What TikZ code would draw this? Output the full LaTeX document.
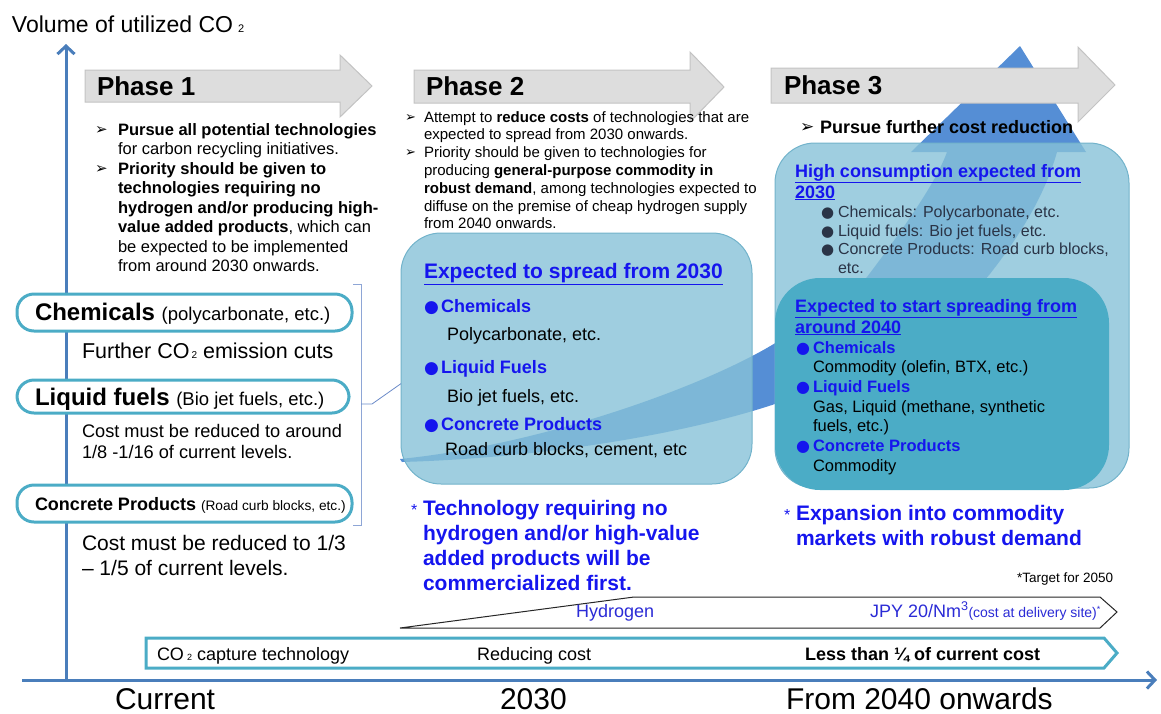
\documentclass[tikz,border=0pt]{standalone}
\usepackage{fontspec}
\setmainfont{Liberation Sans}
\newfontfamily\dejavu{DejaVu Sans}
\usetikzlibrary{arrows.meta,calc}
\definecolor{axisblue}{HTML}{4A7EBB}
\definecolor{phasegray}{HTML}{DDDDDD}
\definecolor{phaseedge}{HTML}{C3C3C3}
\definecolor{boxlight}{HTML}{87C2D8}
\definecolor{boxedge}{HTML}{72B3CB}
\definecolor{boxdark}{HTML}{4BACC6}
\definecolor{swoosh}{HTML}{558ED5}
\definecolor{pillteal}{HTML}{4BACC6}
\definecolor{txtblue}{HTML}{1515EE}
\definecolor{hblue}{HTML}{2B2BD6}
\definecolor{brkt}{HTML}{8EA6D6}
\definecolor{linkblue}{HTML}{6A8AC8}
\definecolor{navytxt}{HTML}{2A3447}
\newcommand\fz[1]{\fontsize{#1}{#1}\selectfont}
\newcommand\cosub[2]{CO\kern#2{\fz{#1}2}}
\newcommand\tri[1]{{\dejavu\fz{#1}➢}}
\newcommand\blt[1]{{\dejavu\fz{#1}●}}
\begin{document}
\begin{tikzpicture}[x=1pt,y=-1pt,
  txt/.style={anchor=base west,inner sep=0pt,outer sep=0pt},
  phasearrow/.style={fill=phasegray,draw=phaseedge,line width=1pt},
  lightbox/.style={draw=boxedge,line width=1pt,fill=boxlight,fill opacity=0.8,rounded corners=40pt,inner sep=0pt,outer sep=0pt,anchor=north west},
  darkbox/.style={fill=boxdark,rounded corners=45pt,inner sep=0pt,outer sep=0pt,anchor=north west},
  pill/.style={draw=pillteal,line width=3pt,fill=white,rounded corners=17pt,inner sep=0pt,outer sep=0pt,anchor=north west},
  axisline/.style={draw=axisblue,line width=3pt,-{Straight Barb[length=8pt,width=17pt]}},
  brktline/.style={draw=brkt,line width=1pt},
  linkline/.style={draw=linkblue,line width=0.8pt},
  strip/.style={draw=pillteal,line width=3pt,fill=white},
  h2line/.style={draw=black!85,line width=1pt,fill=white},
  bluetxt/.style={txt,text=txtblue},
]
\useasboundingbox (0,0) rectangle (1161,713);

% axes
\coordinate (origin) at (66,680);
\coordinate (ytop) at (66,44);
\coordinate (xleft) at (22,680);
\coordinate (xright) at (1157,680);
\draw[axisline] (origin) -- (ytop);
\draw[axisline] (xleft) -- (xright);

% big swoosh arrow
\fill[swoosh] (400,459) .. controls (540,445) and (700,388) .. (772,345)
  .. controls (812,321) and (840,313) .. (870,273)
  .. controls (900,233) and (935,185) .. (947,152)
  -- (911,152) -- (1020,46) -- (1086,152) -- (1057,152)
  .. controls (1045,195) and (1020,235) .. (993,270)
  .. controls (960,315) and (860,375) .. (772,405)
  .. controls (680,435) and (540,458) .. (402,462) -- cycle;

% phase arrows
\draw[phasearrow] (85,70) -- (340,70) -- (340,55) -- (372,86) -- (340,117) -- (340,102) -- (85,102) -- cycle;
\draw[phasearrow] (414,70) -- (690,70) -- (690,52) -- (724,87) -- (690,122) -- (690,103) -- (414,103) -- cycle;
\draw[phasearrow] (771,68) -- (1078,68) -- (1078,47) -- (1115,85) -- (1078,122) -- (1078,103) -- (771,103) -- cycle;

% boxes
\node[lightbox,minimum width=351pt,minimum height=251pt] (p2box) at (401,233) {};
\node[lightbox,minimum width=354pt,minimum height=345pt] (p3box) at (775,143) {};
\node[darkbox,minimum width=334pt,minimum height=212pt] (p3inner) at (775,278) {};

% pills
\node[pill,minimum width=335pt,minimum height=37pt] (pchem) at (17,294) {};
\node[pill,minimum width=332pt,minimum height=33pt] (pliq) at (17,380) {};
\node[pill,minimum width=335pt,minimum height=37pt] (pconc) at (17,485) {};

% bracket and link
\coordinate (bt) at (353,284);
\coordinate (bb) at (353,525);
\coordinate (bm) at (361,404);
\draw[brktline] (bt) -- (361,284) -- (361,525) -- (bb);
\draw[linkline] (bm) -- ++(11,0) -- ($(p2box.north west)!0.6!(p2box.south west)$);

% bottom strips
\draw[h2line] (400,628) -- (634,597) -- (1100,597) -- (1117,612) -- (1100,628) -- cycle;
\draw[strip] (146,638) -- (1104,638) -- (1117,653) -- (1104,668) -- (146,668) -- cycle;

% ---- texts ----
\node[txt] (ylabel) at (12,32) {\fz{23}Volume of utilized \cosub{11}{5pt}};

\node[txt] (ph1) at (97,95) {\fz{26}\bfseries Phase 1};
\node[txt] (ph2) at (426,95) {\fz{26}\bfseries Phase 2};
\node[txt] (ph3) at (784,94) {\fz{26}\bfseries Phase 3};

% phase 1 bullets
\node[txt] (p1ta) at (95,134) {\tri{15}};
\node[txt] (p1a) at (118,135) {\fz{16.5}\bfseries Pursue all potential technologies};
\node[txt] (p1b) at (118,154.5) {\fz{16.5}for carbon recycling initiatives.};
\node[txt] (p1tb) at (95,173.5) {\tri{15}};
\node[txt] (p1c) at (118,174) {\fz{16.5}\bfseries Priority should be given to};
\node[txt] (p1d) at (118,193.5) {\fz{16.5}\bfseries technologies requiring no};
\node[txt] (p1e) at (118,213) {\fz{16.5}\bfseries hydrogen and/or producing high-};
\node[txt] (p1f) at (118,232.5) {\fz{16.5}\textbf{value added products}, which can};
\node[txt] (p1g) at (118,252) {\fz{16.5}be expected to be implemented};
\node[txt] (p1h) at (118,271.5) {\fz{16.5}from around 2030 onwards.};

% phase 2 bullets
\node[txt] (p2ta) at (405,121) {\tri{13}};
\node[txt] (p2a) at (424,122) {\fz{15}Attempt to \textbf{reduce costs} of technologies that are};
\node[txt] (p2b) at (424,139.8) {\fz{15}expected to spread from 2030 onwards.};
\node[txt] (p2tb) at (405,156.6) {\tri{13}};
\node[txt] (p2c) at (424,157.6) {\fz{15}Priority should be given to technologies for};
\node[txt] (p2d) at (424,175.4) {\fz{15}producing \textbf{general-purpose commodity in}};
\node[txt] (p2e) at (424,193.2) {\fz{15}\textbf{robust demand}, among technologies expected to};
\node[txt] (p2f) at (424,211) {\fz{15}diffuse on the premise of cheap hydrogen supply};
\node[txt] (p2g) at (424,228.8) {\fz{15}from 2040 onwards.};

% phase 3 bullet
\node[txt] (p3ta) at (800,132) {\tri{17}};
\node[txt] (p3a) at (820,133) {\fz{18}\bfseries Pursue further cost reduction};

% phase 2 box content
\node[bluetxt] (b2h) at (424,278) {\fz{21}\bfseries\underline{Expected to spread from 2030}};
\node[bluetxt] (b2d1) at (424,312) {\blt{17}};
\node[bluetxt] (b2c1) at (441,312) {\fz{18}\bfseries Chemicals};
\node[txt] (b2t1) at (447,340) {\fz{18}Polycarbonate, etc.};
\node[bluetxt] (b2d2) at (424,373) {\blt{17}};
\node[bluetxt] (b2c2) at (441,373) {\fz{18}\bfseries Liquid Fuels};
\node[txt] (b2t2) at (447,402) {\fz{18}Bio jet fuels, etc.};
\node[bluetxt] (b2d3) at (424,430) {\blt{17}};
\node[bluetxt] (b2c3) at (441,430) {\fz{18}\bfseries Concrete Products};
\node[txt] (b2t3) at (445,455) {\fz{18}Road curb blocks, cement, etc};

% phase 3 outer box content
\node[bluetxt] (b3h1) at (795,177) {\fz{18}\bfseries\underline{High consumption expected from}};
\node[bluetxt] (b3h2) at (795,198) {\fz{18}\bfseries\underline{2030}};
\node[txt,text=navytxt] (b3d1) at (821,217) {\blt{15}};
\node[txt,text=navytxt] (b3t1) at (838,217) {\fz{16}Chemicals: Polycarbonate, etc.};
\node[txt,text=navytxt] (b3d2) at (821,236) {\blt{15}};
\node[txt,text=navytxt] (b3t2) at (838,236) {\fz{16}Liquid fuels: Bio jet fuels, etc.};
\node[txt,text=navytxt] (b3d3) at (821,254) {\blt{15}};
\node[txt,text=navytxt] (b3t3) at (838,254) {\fz{16}Concrete Products: Road curb blocks,};
\node[txt,text=navytxt] (b3t4) at (838,273) {\fz{16}etc.};

% inner box content
\node[bluetxt] (b4h1) at (795,312) {\fz{18}\bfseries\underline{Expected to start spreading from}};
\node[bluetxt] (b4h2) at (795,333) {\fz{18}\bfseries\underline{around 2040}};
\node[bluetxt] (b4d1) at (796,353) {\blt{16}};
\node[bluetxt] (b4c1) at (813,353) {\fz{16.5}\bfseries Chemicals};
\node[txt] (b4t1) at (813,372) {\fz{16.5}Commodity (olefin, BTX, etc.)};
\node[bluetxt] (b4d2) at (796,392) {\blt{16}};
\node[bluetxt] (b4c2) at (813,392) {\fz{16.5}\bfseries Liquid Fuels};
\node[txt] (b4t2) at (813,412) {\fz{16.5}Gas, Liquid (methane, synthetic};
\node[txt] (b4t3) at (813,431) {\fz{16.5}fuels, etc.)};
\node[bluetxt] (b4d3) at (796,451) {\blt{16}};
\node[bluetxt] (b4c3) at (813,451) {\fz{16.5}\bfseries Concrete Products};
\node[txt] (b4t4) at (813,471) {\fz{16.5}Commodity};

% notes
\node[bluetxt] (n1s) at (411,515) {\fz{16}*};
\node[bluetxt] (n1a) at (423,515) {\fz{21}\bfseries Technology requiring no};
\node[bluetxt] (n1b) at (423,540) {\fz{21}\bfseries hydrogen and/or high-value};
\node[bluetxt] (n1c) at (423,565) {\fz{21}\bfseries added products will be};
\node[bluetxt] (n1d) at (423,590) {\fz{21}\bfseries commercialized first.};
\node[bluetxt] (n2s) at (784,520) {\fz{16}*};
\node[bluetxt] (n2a) at (796,520) {\fz{21}\bfseries Expansion into commodity};
\node[bluetxt] (n2b) at (796,545) {\fz{21}\bfseries markets with robust demand};
\node[txt] (tgt) at (1017,582) {\fz{13.5}*Target for 2050};

% left column
\node[txt] (lchem) at (35,320) {\fz{24}\textbf{Chemicals} {\fz{18.5}(polycarbonate, etc.)}};
\node[txt] (lfur) at (82,358) {\fz{21.5}Further \cosub{10}{2pt} emission cuts};
\node[txt] (lliq) at (35,405) {\fz{24}\textbf{Liquid fuels} {\fz{18.5}(Bio jet fuels, etc.)}};
\node[txt] (lc1a) at (82,437) {\fz{18.2}Cost must be reduced to around};
\node[txt] (lc1b) at (82,458) {\fz{18.2}1/8 -1/16 of current levels.};
\node[txt] (lconc) at (35,510) {\fz{18}\textbf{Concrete Products} {\fz{13.7}(Road curb blocks, etc.)}};
\node[txt] (lc2a) at (82,550) {\fz{21}Cost must be reduced to 1/3};
\node[txt] (lc2b) at (82,575) {\fz{21}– 1/5 of current levels.};

% strips text
\node[txt,text=hblue] (h2a) at (576,617) {\fz{18}Hydrogen};
\node[txt,text=hblue] (h2b) at (870,617) {\fz{18}JPY 20/Nm\textsuperscript{3}{\fz{14}(cost at delivery site)}\raisebox{5pt}{\fz{9}*}};
\node[txt] (s1) at (157,660) {\fz{18}\cosub{9}{3pt} capture technology};
\node[txt] (s2) at (477,660) {\fz{18}Reducing cost};
\node[txt] (s3) at (805,660) {\fz{18}\bfseries Less than ¼ of current cost};

% axis labels
\node[txt] (xl1) at (115,709) {\fz{30}Current};
\node[txt] (xl2) at (500,709) {\fz{30}2030};
\node[txt] (xl3) at (786,709) {\fz{30}From 2040 onwards};
\end{tikzpicture}
\end{document}
